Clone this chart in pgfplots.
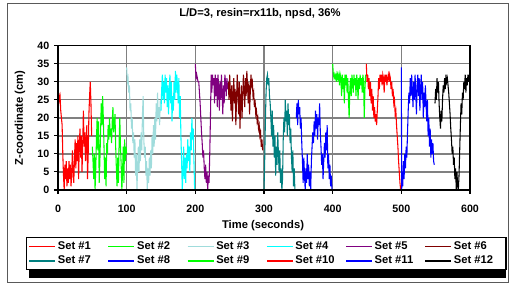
\documentclass[border=0pt]{standalone}
\usepackage{pgfplots}
\pgfplotsset{compat=1.18}
\usepackage{fontspec}
\setmainfont{Liberation Sans}
\definecolor{cSetThree}{RGB}{160,220,220}
\definecolor{cGrid}{RGB}{128,128,128}
\definecolor{cPurple}{RGB}{128,0,128}
\definecolor{cMaroon}{RGB}{128,0,0}
\definecolor{cTeal}{RGB}{0,128,128}
\definecolor{cAqua}{RGB}{0,255,255}
\definecolor{cLime}{RGB}{0,255,0}
\definecolor{cRed}{RGB}{255,0,0}
\definecolor{cBlue}{RGB}{0,0,255}
\newcommand{\legent}[1]{\makebox[36pt][l]{#1}}
\begin{document}
\begin{tikzpicture}
\begin{scope}[x=0.75pt,y=0.75pt]
\path (0,0) rectangle (510,285);
\draw[line width=0.75pt, black!65] (7,2) rectangle (508,281);
\fill[black] (29,7) rectangle (505.5,45);
\end{scope}
\begin{axis}[
  at={(43.5pt,71.25pt)}, anchor=south west,
  scale only axis, width=309pt, height=108.2pt,
  xmin=0, xmax=600, ymin=0, ymax=40,
  xtick={0,100,...,600}, ytick={0,5,...,40},
  grid=major, grid style={cGrid, line width=1pt},
  axis line style={black, line width=1pt},
  tick align=outside, major tick length=3pt,
  tick style={black, line width=0.8pt},
  xtick pos=bottom, ytick pos=left,
  /pgf/number format/assume math mode=true,
  tick label style={font=\bfseries\fontsize{8}{9}\selectfont},
  xticklabel style={yshift=-5pt},
  title={\bfseries L/D=3, resin=rx11b, npsd, 36\%},
  title style={font=\bfseries\fontsize{8.4}{10}\selectfont, at={(axis description cs:0.49,1.166)}, anchor=center},
  xlabel={Time (seconds)},
  xlabel style={font=\bfseries\fontsize{8.4}{10}\selectfont, at={(axis description cs:0.4976,-0.25)}, anchor=center},
  ylabel={Z-coordinate (cm)},
  ylabel style={font=\bfseries\fontsize{8.4}{10}\selectfont, at={(axis description cs:-0.092,0.5)}, anchor=center},
  legend columns=6,
  legend style={at={(axis description cs:-0.0777,-0.3257)}, anchor=north west,
    draw=black, line width=1pt, fill=white,
    font=\bfseries\fontsize{8.4}{10}\selectfont,
    inner sep=1.5pt, row sep=0.5pt, column sep=0pt,
    nodes={inner sep=1.5pt, text height=5.8pt, text depth=1.5pt}},
  legend image code/.code={\draw[#1, line width=0.9pt] (0pt,0pt) -- (19.5pt,0pt);},
  every axis plot/.append style={line width=0.8pt},
  after end axis/.code={\draw[black, line width=1.6pt] (rel axis cs:0,1) -- (rel axis cs:0,0) -- (rel axis cs:1,0);},
]
% Set 1
\addplot[cRed] coordinates {(0,31) (0.5,22) (1,27) (2,25) (3,26) (4,22) (5,20) (6,18) (7,10) (8,4) (9,0) (10,7) (11,3) (12,8) (13,1) (14,6) (15,2) (16,8) (17,3) (18,7) (19,1) (20,5) (21,11) (22,4) (23,2) (24,9) (25,14) (26,6) (27,13) (28,8) (29,15) (30,3) (31,12) (32,17) (33,9) (34,15) (35,5) (36,13) (37,22) (38,12) (39,16) (40,8) (41,14) (42,18) (43,3) (44,10) (45,21) (46,26) (47,30) (48,24) (49,15)};
\addlegendentry{\legent{Set \#1}}
% Set 2
\addplot[cLime] coordinates {(50,12) (51,8) (52,3) (53,10) (54,0) (55,6) (56,14) (57,20) (58,11) (59,19) (60,2) (61,8) (62,16) (63,24) (64,18) (65,26) (66,20) (67,12) (68,3) (69,9) (70,1) (71,13) (72,10) (73,18) (74,14) (75,20) (76,15) (77,17) (78,13) (79,19) (80,23) (81,16) (82,18) (83,21) (84,12) (85,6) (86,1) (87,9) (88,2) (89,13) (90,20) (91,12) (92,7) (93,0) (94,5) (95,12) (96,2) (97,14) (98,8) (99,12) (100,10)};
\addlegendentry{\legent{Set \#2}}
% Set 3
\addplot[cSetThree] coordinates {(100,34) (101,30) (102,31) (103,27) (104,29) (105,22) (106,24) (107,17) (108,20) (109,13) (110,16) (111,9) (112,14) (113,4) (114,10) (115,0) (116,7) (117,12) (118,5) (119,14) (120,8) (121,16) (122,11) (123,21) (124,26) (125,14) (126,9) (127,12) (128,4) (129,8) (130,0) (131,6) (132,2) (133,9) (134,4) (135,11) (136,6) (137,15) (138,10) (139,18) (140,12) (141,20) (142,14) (143,24) (144,19) (145,27) (146,20) (147,23) (148,18) (149,25)};
\addlegendentry{\legent{Set \#3}}
% Set 4
\addplot[cAqua] coordinates {(150,22) (151,28) (152,32) (153,25) (154,30) (155,24) (156,32) (157,27) (158,31) (159,23) (160,29) (161,21) (162,28) (163,32) (164,24) (165,30) (166,19) (167,26) (168,22) (169,30) (170,25) (171,33) (172,27) (173,32) (174,29) (175,24) (176,31) (177,20) (178,26) (179,15) (180,8) (181,0) (182,5) (183,12) (184,3) (185,9) (186,2) (187,10) (188,6) (189,14) (190,8) (191,12) (192,5) (193,16) (194,11) (195,20) (196,14) (197,17) (198,8) (199,0)};
\addlegendentry{\legent{Set \#4}}
% Set 5
\addplot[cPurple] coordinates {(200,35) (201,31) (202,32) (203,31) (204,30) (205,30) (206,27) (207,24) (208,20) (209,16) (210,13) (211,9) (212,11) (213,6) (214,3) (215,7) (216,2) (217,5) (218,0) (219,4) (220,2) (221,10) (222,20) (223,32) (224,27) (225,32) (226,29) (227,31) (228,24) (229,32) (230,26) (231,31) (232,23) (233,32) (234,28) (235,22) (236,30) (237,25) (238,32) (239,27) (240,21) (241,29) (242,24) (243,32) (244,30) (245,26) (246,31) (247,28)};
\addlegendentry{\legent{Set \#5}}
% Set 6
\addplot[cMaroon] coordinates {(248,30) (249,25) (250,32) (251,27) (252,22) (253,29) (254,19) (255,26) (256,31) (257,24) (258,28) (259,18) (260,25) (261,32) (262,27) (263,21) (264,30) (265,17) (266,24) (267,29) (268,20) (269,26) (270,32) (271,28) (272,23) (273,31) (274,26) (275,33) (276,29) (277,24) (278,30) (279,21) (280,27) (281,32) (282,29) (283,30) (284,26) (285,27) (286,23) (287,25) (288,21) (289,22) (290,19) (291,20) (292,17) (293,18) (294,15) (295,16) (296,12) (297,14) (298,11)};
\addlegendentry{\legent{Set \#6}}
% Set 7
\addplot[cTeal] coordinates {(300,0) (301,8) (302,19) (303,27) (304,31) (305,32) (306,29) (307,31) (308,26) (309,24) (310,20) (311,15) (312,22) (313,12) (314,18) (315,9) (316,15) (317,4) (318,12) (319,7) (320,16) (321,10) (322,5) (323,11) (324,2) (325,6) (326,0) (327,3) (328,14) (329,20) (330,16) (331,25) (332,19) (333,22) (334,15) (335,24) (336,18) (337,21) (338,13) (339,17) (340,9) (341,5) (342,11) (343,1) (344,6) (345,0)};
\addlegendentry{\legent{Set \#7}}
% Set 8
\addplot[cBlue] coordinates {(347,20) (348,24) (349,18) (350,25) (351,21) (352,23) (353,17) (354,20) (355,13) (356,8) (357,2) (358,9) (359,4) (360,0) (361,6) (362,2) (363,10) (364,3) (365,7) (366,1) (367,5) (368,0) (369,8) (370,12) (371,16) (372,13) (373,19) (374,15) (375,22) (376,17) (377,21) (378,14) (379,20) (380,18) (381,24) (382,16) (383,12) (384,7) (385,10) (386,3) (387,8) (388,13) (389,9) (390,16) (391,11) (392,18) (393,6) (394,10) (395,3) (396,7) (397,1) (398,4) (399,0)};
\addlegendentry{\legent{Set \#8}}
% Set 9
\addplot[cLime] coordinates {(400,35) (401,32) (402,31) (403,32) (404,31) (405,32) (406,30) (407,32) (408,31) (409,32) (410,29) (411,32) (412,31) (413,26) (414,32) (415,28) (416,31) (417,24) (418,32) (419,29) (420,32) (421,27) (422,31) (423,25) (424,20) (425,28) (426,31) (427,26) (428,32) (429,30) (430,27) (431,32) (432,29) (433,31) (434,26) (435,32) (436,30) (437,25) (438,31) (439,28) (440,32) (441,29) (442,31) (443,27) (444,32) (445,30) (446,20) (447,28) (448,32)};
\addlegendentry{\legent{Set \#9}}
% Set 10
\addplot[cRed] coordinates {(449,35) (450,30) (451,32) (452,28) (453,31) (454,26) (455,30) (456,24) (457,28) (458,22) (459,26) (460,20) (461,23) (462,19) (463,21) (464,18) (465,22) (466,26) (467,31) (468,28) (469,32) (470,30) (471,32) (472,29) (473,32) (474,31) (475,27) (476,32) (477,30) (478,32) (479,29) (480,31) (481,32) (482,30) (483,32) (484,31) (485,28) (486,30) (487,26) (488,28) (489,24) (490,25) (491,21) (492,22) (493,18) (494,15) (495,12) (496,8) (497,5) (498,2) (499,0)};
\addlegendentry{\legent{Set \#10}}
% Set 11
\addplot[cBlue] coordinates {(500,34) (500.5,0) (501,5) (502,1) (503,8) (504,3) (505,10) (506,6) (507,12) (508,9) (509,16) (510,22) (511,27) (512,24) (513,31) (514,26) (515,32) (516,28) (517,23) (518,30) (519,25) (520,32) (521,27) (522,21) (523,29) (524,32) (525,26) (526,31) (527,22) (528,28) (529,32) (530,25) (531,30) (532,20) (533,27) (534,23) (535,29) (536,24) (537,19) (538,25) (539,15) (540,20) (541,12) (542,17) (543,9) (544,14) (545,10) (546,13) (547,8) (548,7)};
\addlegendentry{\legent{Set \#11}}
% Set 12
\addplot[black] coordinates {(549,24) (550,28) (551,25) (552,31) (553,27) (554,30) (555,24) (556,20) (557,17) (558,22) (559,19) (560,25) (561,29) (562,27) (563,31) (564,28) (565,32) (566,30) (567,31) (568,29) (569,27) (570,24) (571,21) (572,17) (573,14) (574,10) (575,12) (576,7) (577,9) (578,3) (579,6) (580,0) (581,5) (582,1) (583,0) (584,4) (585,11) (586,18) (587,24) (588,21) (589,27) (590,25) (591,30) (592,28) (593,32) (594,27) (595,31) (596,29) (597,32) (598,30) (599,32)};
\addlegendentry{\legent{Set \#12}}
\end{axis}
\end{tikzpicture}
\end{document}
